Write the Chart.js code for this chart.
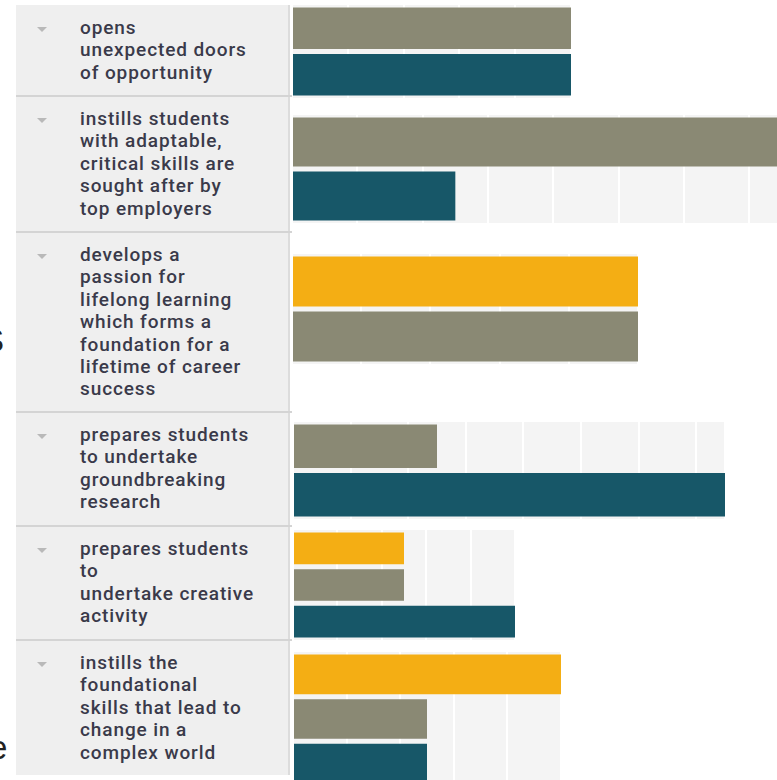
<!DOCTYPE html>
<html>
<head>
<meta charset="utf-8">
<script src="https://cdn.jsdelivr.net/npm/chart.js@4/dist/chart.umd.min.js"></script>
<style>
  html, body { margin: 0; padding: 0; background: #fff; }
  body { width: 777px; height: 780px; overflow: hidden; position: relative; font-family: Roboto, "Liberation Sans", Arial, sans-serif; }
  .panel { position: absolute; left: 16px; top: 5px; width: 272px; height: 770px; background: #efefef; border-right: 2px solid #dcdcdc; }
  .sep { position: absolute; left: 16px; width: 276px; height: 2px; background: #d4d4d4; }
  .stmt { position: absolute; left: 80px; width: 208px; font-size: 19px; font-weight: 500; line-height: 22.4px; color: #3a3a4a; letter-spacing: 0.9px; white-space: nowrap; }
  .caret { position: absolute; left: 37px; width: 0; height: 0; border-left: 5px solid transparent; border-right: 5px solid transparent; border-top: 5px solid #b9b9b9; }
  .clip { position: absolute; font-family: Arial, "Liberation Sans", sans-serif; font-size: 33px; color: #222; }
  canvas { position: absolute; }
</style>
</head>
<body>
<div class="panel"></div>
<div class="clip" style="left:-18px; top:322px;">S</div>
<div class="clip" style="left:-11px; top:729px;">e</div>
<script>
// statements, one row each (line breaks as shown in the table)
const statements = [
  ['opens', 'unexpected doors', 'of opportunity'],
  ['instills students', 'with adaptable,', 'critical skills are', 'sought after by', 'top employers'],
  ['develops a', 'passion for', 'lifelong learning', 'which forms a', 'foundation for a', 'lifetime of career', 'success'],
  ['prepares students', 'to undertake', 'groundbreaking', 'research'],
  ['prepares students', 'to', 'undertake creative', 'activity'],
  ['instills the', 'foundational', 'skills that lead to', 'change in a', 'complex world']
];

// share of responses (%) per statement; null = no bar in that row
const goldValues = [null, null, 50, null, 25, 50];
const grayValues = [50, 75, 50, 25, 25, 25];
const tealValues = [50, 25, null, 75, 50, 25];

const seriesNames = ['gold', 'gray', 'teal'];
const seriesColors = ['#f4ae14', '#8a8974', '#175768'];
const tickStep = 10;

// table layout
const rowTops = [5, 96, 232, 412, 526, 640];
const plotBoxes = [
  { left: 292, top: 5, width: 279, height: 93 },
  { left: 292, top: 115, width: 490, height: 108 },
  { left: 292, top: 254, width: 346, height: 110 },
  { left: 293, top: 422, width: 432, height: 97 },
  { left: 293, top: 530, width: 222, height: 110 },
  { left: 293, top: 652, width: 268, height: 134 }
];
const barGap = 5;

const plotBackground = {
  id: 'plotBackground',
  beforeDraw (chart) {
    const { ctx, chartArea: a } = chart;
    ctx.save();
    ctx.fillStyle = '#f4f4f4';
    ctx.fillRect(a.left, a.top, a.right - a.left, a.bottom - a.top);
    ctx.restore();
  }
};

statements.forEach((lines, i) => {
  const top = rowTops[i];

  if (i > 0) {
    const sep = document.createElement('div');
    sep.className = 'sep';
    sep.style.top = (top - 1) + 'px';
    document.body.appendChild(sep);
  }

  const caret = document.createElement('div');
  caret.className = 'caret';
  caret.style.top = (top + 22) + 'px';
  document.body.appendChild(caret);

  const text = document.createElement('div');
  text.className = 'stmt';
  text.style.top = (top + 12) + 'px';
  text.innerHTML = lines.join('<br>');
  document.body.appendChild(text);

  // bars present in this row
  const labels = [];
  const values = [];
  const colors = [];
  [goldValues, grayValues, tealValues].forEach((series, s) => {
    if (series[i] !== null) {
      labels.push(seriesNames[s]);
      values.push(series[i]);
      colors.push(seriesColors[s]);
    }
  });

  const box = plotBoxes[i];
  const canvas = document.createElement('canvas');
  canvas.width = box.width;
  canvas.height = box.height;
  canvas.style.left = box.left + 'px';
  canvas.style.top = box.top + 'px';
  document.body.appendChild(canvas);

  const slot = box.height / values.length;

  new Chart(canvas, {
    type: 'bar',
    data: {
      labels: labels,
      datasets: [{
        data: values,
        backgroundColor: colors,
        borderWidth: 0,
        categoryPercentage: 1,
        barPercentage: (slot - barGap) / slot
      }]
    },
    options: {
      indexAxis: 'y',
      responsive: false,
      animation: false,
      devicePixelRatio: 1,
      layout: { padding: 0 },
      plugins: { legend: { display: false }, tooltip: { enabled: false } },
      scales: {
        x: {
          min: 0,
          max: Math.max(...values),
          ticks: { display: false, stepSize: tickStep },
          grid: { color: '#ffffff', lineWidth: 2, drawTicks: false },
          border: { display: false }
        },
        y: { display: false }
      }
    },
    plugins: [plotBackground]
  });
});
</script>
</body>
</html>
